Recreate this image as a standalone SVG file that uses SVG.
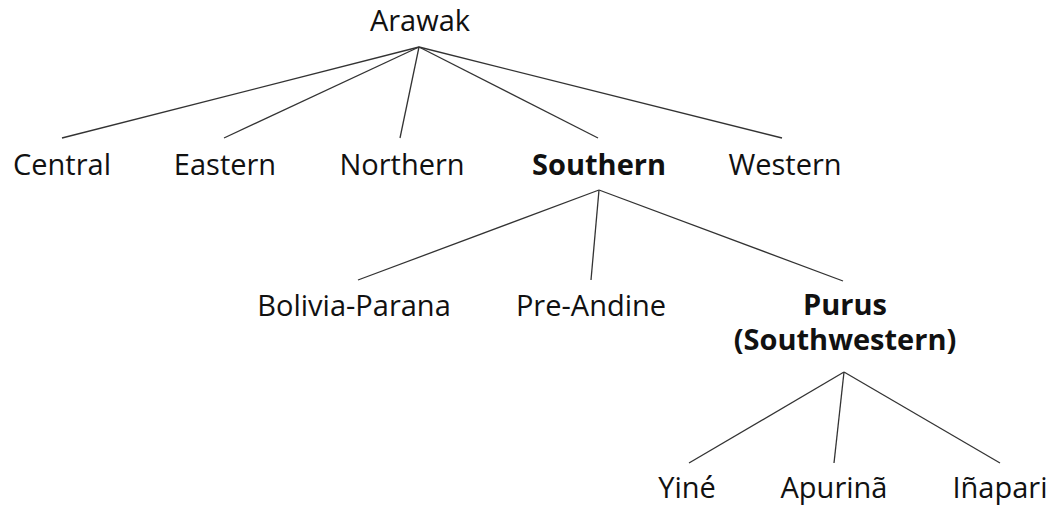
<svg xmlns="http://www.w3.org/2000/svg" width="1054" height="506" viewBox="0 0 1054 506">
<style>
text{font-family:"Open Sans","Noto Sans",sans-serif;font-size:29px;fill:#111;text-anchor:middle}
.b{font-weight:bold}
#connectors line{stroke:#333;stroke-width:1.3}
</style>
<rect width="1054" height="506" fill="#fff"/>
<g id="connectors">
<line x1="419" y1="47" x2="62" y2="138"/>
<line x1="419" y1="47" x2="224" y2="138"/>
<line x1="419" y1="47" x2="400" y2="138"/>
<line x1="419" y1="47" x2="598" y2="138"/>
<line x1="419" y1="47" x2="782" y2="138"/>
<line x1="599" y1="190" x2="358" y2="280"/>
<line x1="599" y1="190" x2="591" y2="280"/>
<line x1="599" y1="190" x2="843" y2="281"/>
<line x1="844" y1="372" x2="689" y2="463"/>
<line x1="844" y1="372" x2="834" y2="463"/>
<line x1="844" y1="372" x2="1000" y2="463"/>
</g>
<g id="arawak"><text x="420" y="31">Arawak</text></g>
<g id="central"><text x="62" y="175">Central</text></g>
<g id="eastern"><text x="225" y="175">Eastern</text></g>
<g id="northern"><text x="402" y="175">Northern</text></g>
<g id="southern"><text class="b" x="599" y="175">Southern</text></g>
<g id="western"><text x="785" y="175">Western</text></g>
<g id="bolivia"><text x="354" y="316">Bolivia-Parana</text></g>
<g id="preandine"><text x="591" y="316">Pre-Andine</text></g>
<g id="purus"><text class="b" x="845" y="315">Purus</text><text class="b" x="845" y="350">(Southwestern)</text></g>
<g id="yine"><text x="687" y="498">Yiné</text></g>
<g id="apurina"><text x="834" y="498">Apurinã</text></g>
<g id="inapari"><text x="1000" y="498">Iñapari</text></g>
</svg>
